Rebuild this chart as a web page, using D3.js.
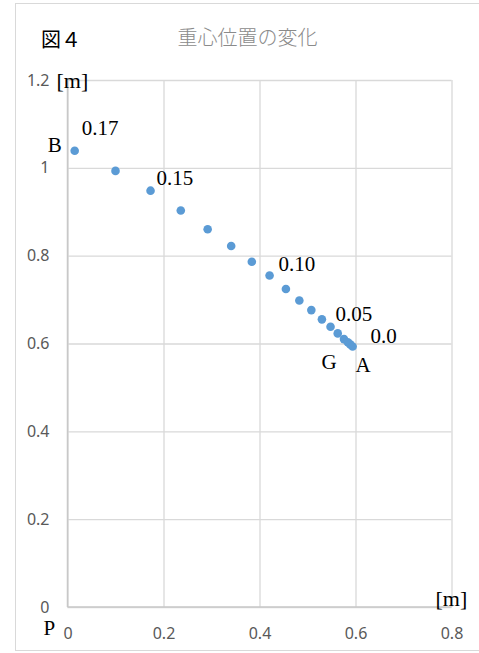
<!DOCTYPE html>
<html>
<head>
<meta charset="utf-8">
<script src="https://cdn.jsdelivr.net/npm/d3@7"></script>
<style>
  body { margin: 0; background: #fff; }
  svg { display: block; }
</style>
</head>
<body>
<div id="chart"></div>
<script>
// time stamps [s] and centre-of-gravity coordinates [m]
const times = [0.17, 0.16, 0.15, 0.14, 0.13, 0.12, 0.11, 0.10, 0.09, 0.08, 0.07, 0.06, 0.05, 0.04, 0.03, 0.02, 0.01, 0.00];
const xs = [0.015, 0.100, 0.173, 0.236, 0.292, 0.341, 0.384, 0.421, 0.455, 0.483, 0.508, 0.530, 0.548, 0.563, 0.576, 0.584, 0.589, 0.594];
const ys = [1.039, 0.993, 0.948, 0.903, 0.860, 0.822, 0.786, 0.755, 0.724, 0.698, 0.676, 0.655, 0.638, 0.623, 0.610, 0.603, 0.598, 0.593];

const xTicks = [0, 0.2, 0.4, 0.6, 0.8];
const xTickLabels = ["0", "0.2", "0.4", "0.6", "0.8"];
const yTicks = [0, 0.2, 0.4, 0.6, 0.8, 1.0, 1.2];
const yTickLabels = ["0", "0.2", "0.4", "0.6", "0.8", "1", "1.2"];

// annotated time labels
const timeLabels = [
  { t: 0.17, text: "0.17" },
  { t: 0.15, text: "0.15" },
  { t: 0.10, text: "0.10" },
  { t: 0.05, text: "0.05" },
  { t: 0.00, text: "0.0" }
];

const title = "重心位置の変化";
const figLabel = "図４";

const width = 479, height = 653;
const margin = { top: 80, right: 27.5, bottom: 46, left: 67.5 };

const data = times.map((t, i) => ({ t: t, x: xs[i], y: ys[i] }));

const x = d3.scaleLinear()
  .domain([0, 0.8])
  .range([margin.left, width - margin.right]);

const y = d3.scaleLinear()
  .domain([0, 1.2])
  .range([height - margin.bottom, margin.top]);

const svg = d3.select("#chart").append("svg")
  .attr("width", width)
  .attr("height", height);

// chart frame
svg.append("rect")
  .attr("x", 15.5).attr("y", 3.5)
  .attr("width", 480).attr("height", 647)
  .attr("fill", "#fff")
  .attr("stroke", "#d9d9d9");

const gridColor = "#d9d9d9";
const tickFont = "'Noto Sans', 'Open Sans', sans-serif";

// vertical gridlines + x tick labels
svg.append("g")
  .attr("transform", `translate(0,${y(0)})`)
  .call(d3.axisBottom(x).tickValues(xTicks)
    .tickFormat((d, i) => xTickLabels[i])
    .tickSize(-(y(0) - y(1.2))).tickPadding(21))
  .call(g => g.select(".domain").remove())
  .call(g => g.selectAll(".tick line").attr("stroke", gridColor).attr("stroke-width", 1.3))
  .call(g => g.selectAll(".tick text")
    .attr("fill", "#595959")
    .attr("font-family", tickFont)
    .attr("font-size", 16));

// horizontal gridlines + y tick labels
svg.append("g")
  .attr("transform", `translate(${x(0)},0)`)
  .call(d3.axisLeft(y).tickValues(yTicks)
    .tickFormat((d, i) => yTickLabels[i])
    .tickSize(-(x(0.8) - x(0))).tickPadding(18))
  .call(g => g.select(".domain").remove())
  .call(g => g.selectAll(".tick line").attr("stroke", gridColor).attr("stroke-width", 1.3))
  .call(g => g.selectAll(".tick text")
    .attr("fill", "#595959")
    .attr("font-family", tickFont)
    .attr("font-size", 16));

// axis lines
svg.append("line")
  .attr("x1", x(0)).attr("x2", x(0.8))
  .attr("y1", y(0)).attr("y2", y(0))
  .attr("stroke", "#c8c8c8").attr("stroke-width", 1.5);
svg.append("line")
  .attr("x1", x(0)).attr("x2", x(0))
  .attr("y1", y(0)).attr("y2", y(1.2))
  .attr("stroke", "#c8c8c8").attr("stroke-width", 1.5);

// points
svg.append("g")
  .selectAll("circle")
  .data(data)
  .join("circle")
  .attr("cx", d => x(d.x))
  .attr("cy", d => y(d.y))
  .attr("r", 4.3)
  .attr("fill", "#5b9bd5");

const serif = "'Liberation Serif', 'Times New Roman', serif";
const byTime = t => data.find(d => Math.abs(d.t - t) < 1e-9);

// offsets of the time labels from their points
const labelOffsets = { "0.17": [7, -16], "0.15": [6, -6], "0.10": [9, -4], "0.05": [5, -6], "0.0": [18, -4] };

svg.append("g")
  .selectAll("text")
  .data(timeLabels)
  .join("text")
  .attr("x", d => x(byTime(d.t).x) + labelOffsets[d.text][0])
  .attr("y", d => y(byTime(d.t).y) + labelOffsets[d.text][1])
  .attr("font-family", serif)
  .attr("font-size", 21)
  .attr("fill", "#000")
  .text(d => d.text);

// point letters
const first = data[0], last = data[data.length - 1];
const letters = [
  { text: "B", px: x(first.x) - 13, py: y(first.y) + 1, anchor: "end" },
  { text: "G", px: x(last.x) - 31, py: y(last.y) + 22, anchor: "start" },
  { text: "A", px: x(last.x) + 3, py: y(last.y) + 25, anchor: "start" },
  { text: "P", px: x(0) - 24, py: y(0) + 28, anchor: "start" }
];
svg.append("g")
  .selectAll("text")
  .data(letters)
  .join("text")
  .attr("x", d => d.px)
  .attr("y", d => d.py)
  .attr("text-anchor", d => d.anchor)
  .attr("font-family", serif)
  .attr("font-size", 21)
  .text(d => d.text);

// unit labels
svg.append("text")
  .attr("x", x(0) - 11).attr("y", y(1.2) + 8)
  .attr("font-family", serif).attr("font-size", 22)
  .text("[m]");
svg.append("text")
  .attr("x", x(0.8) - 16).attr("y", y(0) - 1)
  .attr("font-family", serif).attr("font-size", 22)
  .text("[m]");

// titles
svg.append("text")
  .attr("x", 41).attr("y", 47)
  .attr("font-family", "'Liberation Serif', 'Noto Sans CJK JP', serif")
  .attr("font-size", 20)
  .text(figLabel);

svg.append("text")
  .attr("x", 247.5).attr("y", 45)
  .attr("text-anchor", "middle")
  .attr("font-family", "'Noto Sans CJK JP', sans-serif")
  .attr("font-weight", 300)
  .attr("font-size", 20)
  .attr("fill", "#8a8a8a")
  .text(title);
</script>
</body>
</html>
